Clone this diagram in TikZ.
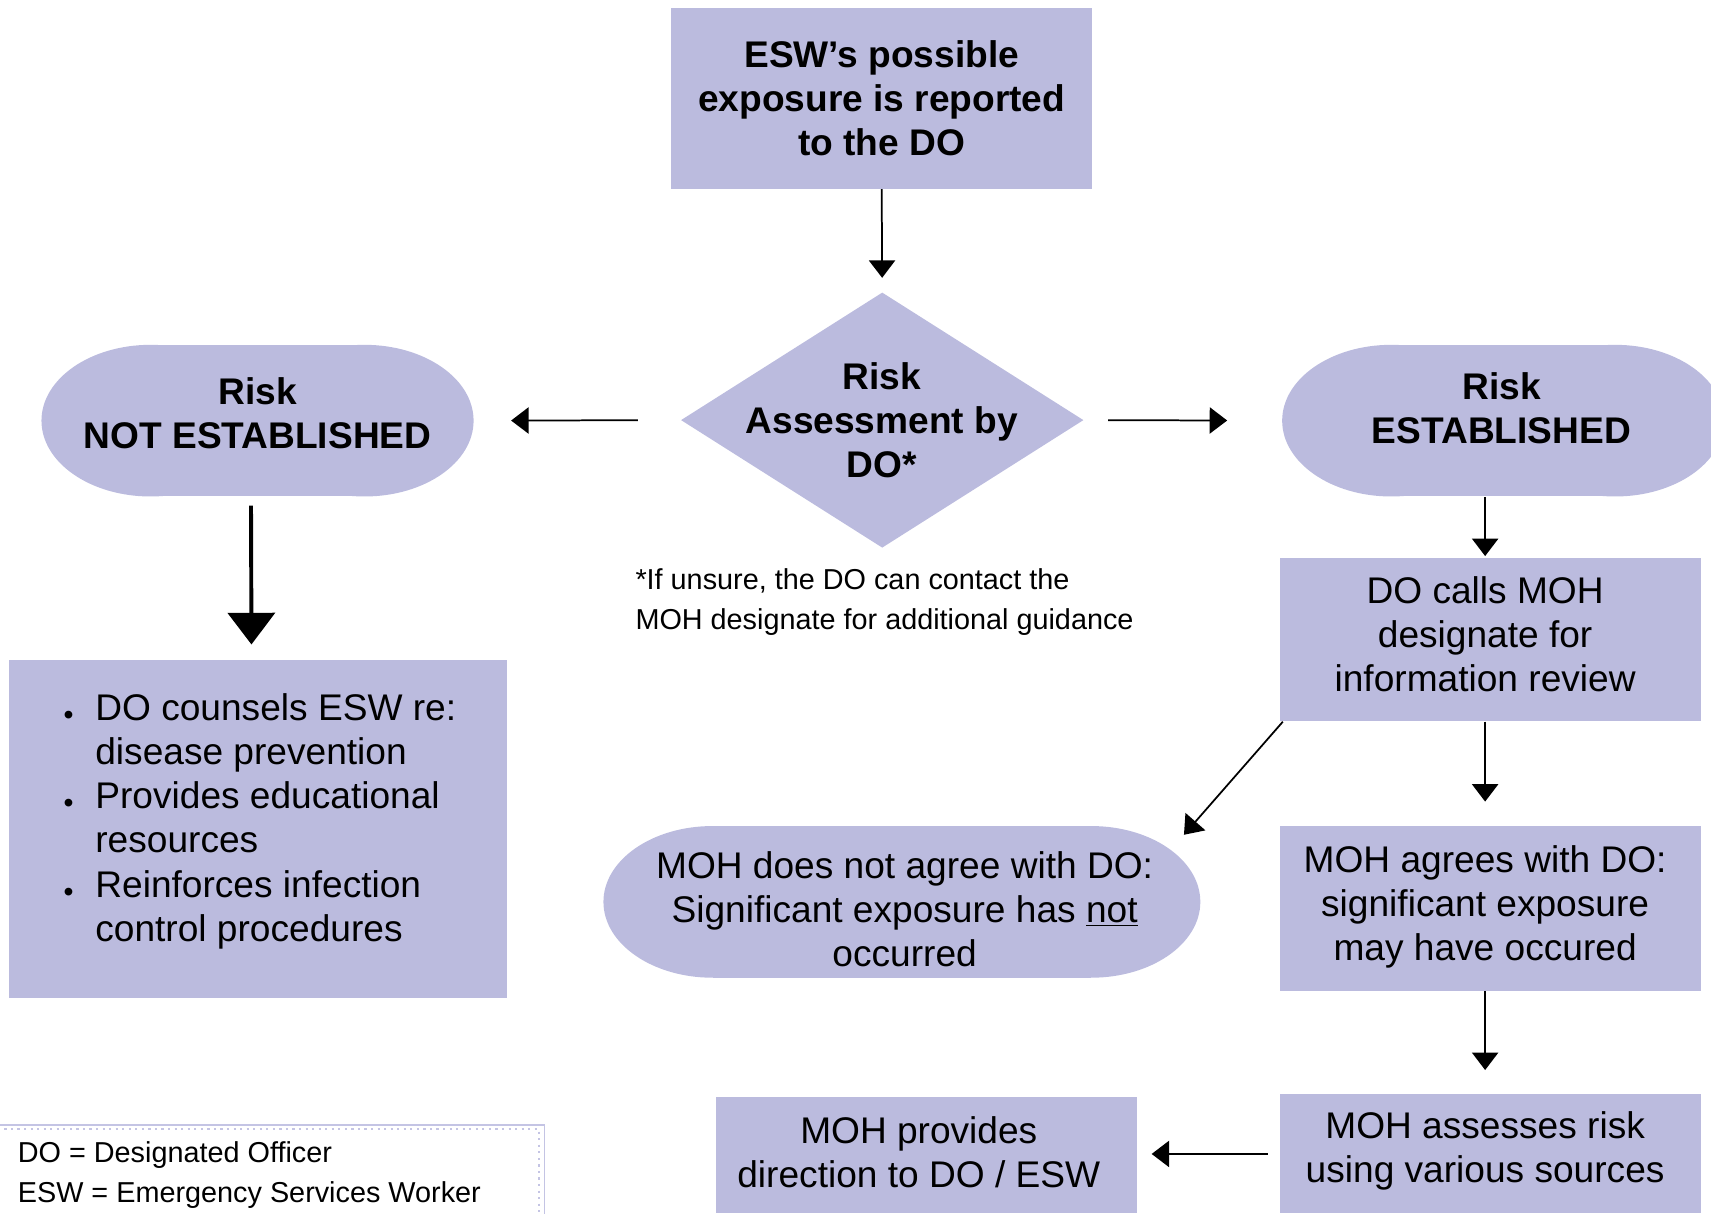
\documentclass[tikz,border=0pt]{standalone}
\usepackage{fontspec}
\setmainfont{Liberation Sans}
\usetikzlibrary{arrows.meta,shapes.geometric,calc}
\definecolor{boxfill}{RGB}{187,187,222}
\definecolor{legendline}{RGB}{196,196,228}

% bullet and matching indent for the list in the left box
\newcommand\itembul{\makebox[14.5pt][l]{\raisebox{-1.9pt}{\fontsize{13}{13}\selectfont •}}}
\newcommand\itemgap{\hspace*{14.5pt}}

% rounded "pill" shape: name, cx, cy, width, height, end radius
\newcommand\pill[6]{%
  \fill[boxfill] (#2-#4/2+#6,#3) ellipse [x radius=#6, y radius=#5/2];
  \fill[boxfill] (#2+#4/2-#6,#3) ellipse [x radius=#6, y radius=#5/2];
  \fill[boxfill] (#2-#4/2+#6,#3-#5/2) rectangle (#2+#4/2-#6,#3+#5/2);
  \node[inner sep=0pt, minimum width=#4*0.5pt, minimum height=#5*0.5pt] (#1) at (#2,#3) {};
}

\begin{document}
\begin{tikzpicture}[x=0.5pt,y=-0.5pt,
  txt/.style={inner sep=0pt, align=center, font=\fontsize{17}{20.25}\selectfont},
  btxt/.style={inner sep=0pt, align=center, font=\fontsize{17}{20.25}\selectfont\bfseries},
  note/.style={inner sep=0pt, align=left, anchor=west, font=\fontsize{13.2}{18.3}\selectfont},
  box/.style={fill=boxfill, inner sep=0pt},
  arr/.style={line width=0.8pt, -{Triangle[width=12pt,length=8pt]}},
  bigarr/.style={line width=1.8pt, -{Triangle[width=21.5pt,length=14.5pt]}},
]
\useasboundingbox (0,0) rectangle (1568,1112);

% ---- shapes ----
\node[box, minimum width=193pt, minimum height=83pt] (top) at (808,90) {};
\node[diamond, fill=boxfill, inner sep=0pt, minimum width=184.5pt, minimum height=117pt] (dia) at (808.5,385) {};
\pill{notest}{236}{385.5}{396}{139}{100}
\pill{est}{1377.5}{385.5}{405}{139}{100}
\node[box, minimum width=228.5pt, minimum height=155pt] (care) at (236.5,760) {};
\node[box, minimum width=193pt, minimum height=75pt] (calls) at (1366,586) {};
\pill{notagree}{826.5}{826.5}{547}{139}{100}
\node[box, minimum width=193pt, minimum height=75.5pt] (agree) at (1366,832.5) {};
\node[box, minimum width=193pt, minimum height=54.5pt] (assess) at (1366,1057.5) {};
\node[box, minimum width=193pt, minimum height=53.5pt] (prov) at (849,1058.5) {};

% ---- texts ----
\node[btxt] (toptxt) at (808,90) {ESW’s possible\\exposure is reported\\to the DO};
\node[btxt] (diatxt) at (808,385) {Risk\\Assessment by\\DO*};
\node[btxt] (notesttxt) at (236,379) {Risk\\NOT ESTABLISHED};
\node[btxt] (esttxt) at (1376,374) {Risk\\ESTABLISHED};
\node[txt, align=left, anchor=west] (caretxt) at (58,752.5)
  {\itembul DO counsels ESW re:\\\itemgap disease prevention\\\itembul Provides educational\\\itemgap resources\\\itembul Reinforces infection\\\itemgap control procedures};
\node[note] (foot) at (582,551.5) {*If unsure, the DO can contact the\\MOH designate for additional guidance};
\node[txt] (callstxt) at (1361,581) {DO calls MOH\\designate for\\information review};
\node[txt] (notagtxt) at (829,833) {MOH does not agree with DO:\\Significant exposure has \underline{not}\\occurred};
\node[txt] (agtxt) at (1361,831) {MOH agrees with DO:\\significant exposure\\may have occured};
\node[txt] (asstxt) at (1361,1055) {MOH assesses risk\\using various sources};
\node[txt] (provtxt) at (842,1056) {MOH provides\\direction to DO / ESW};

% ---- legend ----
\draw[legendline, line width=0.6pt] (-2,1031) -- (499,1031) -- (499,1114);
\draw[legendline, dotted, line width=1pt] (-2,1035) -- (494,1035) -- (494,1114);
\node[note] (legtxt) at (16,1077) {DO = Designated Officer\\ESW = Emergency Services Worker};

% ---- connectors ----
\coordinate (diagend) at (1085,765);
\draw[arr, shorten >=6.5pt] (top.south) -- (dia.north);
\draw[arr, shorten <=19.5pt, shorten >=17pt] (dia.west) -- (notest.east);
\draw[arr, shorten <=11pt, shorten >=25pt] (dia.east) -- (est.west);
\draw[bigarr, shorten <=4pt, shorten >=7pt] ($(notest.south)+(-6,0)$) -- ($(care.north)+(-6,0)$);
\draw[arr, shorten >=0.5pt] (est.south -| callstxt) -- (calls.north -| callstxt);
\draw[arr, shorten >=11pt] (calls.south -| callstxt) -- (agree.north -| callstxt);
\draw[arr] ($(calls.south west)+(3,0)$) -- (diagend);
\draw[arr, shorten >=11pt] (agree.south -| agtxt) -- (assess.north -| agtxt);
\draw[arr, shorten <=5.5pt, shorten >=6.5pt] (assess.west) -- (prov.east |- assess.west);
\end{tikzpicture}
\end{document}
